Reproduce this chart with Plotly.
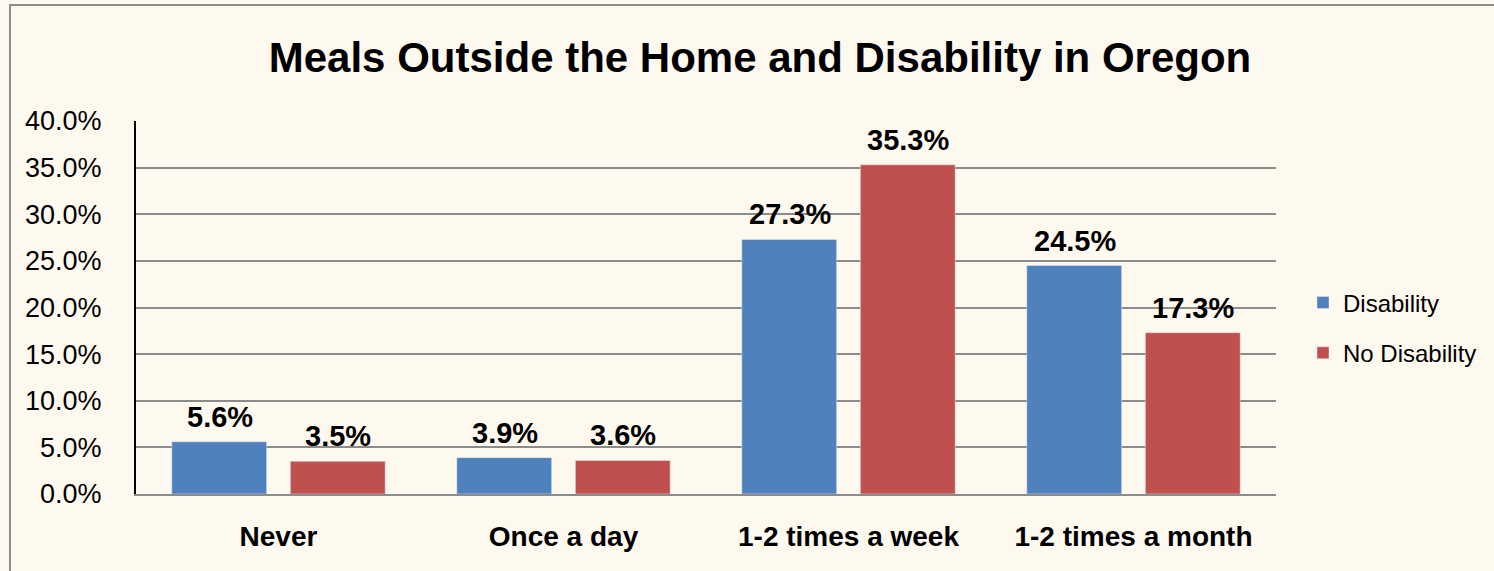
import plotly.graph_objects as go

categories = ["Never", "Once a day", "1-2 times a week", "1-2 times a month"]
disability = [5.6, 3.9, 27.3, 24.5]
no_disability = [3.5, 3.6, 35.3, 17.3]
tick_vals = [0, 5, 10, 15, 20, 25, 30, 35, 40]
tick_text = ["0.0%", "5.0%", "10.0%", "15.0%", "20.0%", "25.0%", "30.0%", "35.0%", "40.0%"]
title = "Meals Outside the Home and Disability in Oregon"

BLUE = "#4F81BD"
RED = "#C0504D"
BG = "#FEF9EF"
FONT = "Liberation Sans"

W, H = 1494, 571
L, T = 136, 121
PW, PH = 1140, 373

fig = go.Figure()
fig.add_trace(go.Bar(x=categories, y=disability, name="Disability", marker_color=BLUE,
                     legendgroup="a"))
fig.add_trace(go.Bar(x=categories, y=no_disability, name="No Disability", marker_color=RED,
                     legendgroup="b"))

# data labels
for vals, shift in ((disability, -59), (no_disability, 59)):
    for c, v in zip(categories, vals):
        fig.add_annotation(x=c, y=v, text="<b>%.1f%%</b>" % v, showarrow=False,
                           xshift=shift, yshift=25, font=dict(size=29, color="black", family=FONT))

fig.add_shape(type="rect", xref="paper", yref="paper",
              x0=(10 - L) / PW, x1=1.3, y0=-0.5, y1=(T + PH - 5) / PH,
              line=dict(color="#8C8C8C", width=2), fillcolor="rgba(0,0,0,0)", layer="below")

fig.update_layout(
    width=W, height=H,
    margin=dict(l=L, r=W - L - PW, t=T, b=H - T - PH, autoexpand=False),
    paper_bgcolor=BG, plot_bgcolor=BG,
    barmode="group", bargap=0.168, bargroupgap=0.2,
    title=dict(text="<b>" + title + "</b>", x=760 / W, xanchor="center",
               y=1 - 57 / H, yanchor="middle",
               font=dict(size=42, color="black", family=FONT)),
    font=dict(family=FONT, color="black"),
    legend=dict(x=(1303 - L) / PW, xanchor="left", y=(T + PH - 328) / PH, yanchor="middle",
                font=dict(size=24, family=FONT, color="black"), tracegroupgap=16,
                bgcolor="rgba(0,0,0,0)"),
    xaxis=dict(tickfont=dict(size=28, family=FONT, color="black"), showline=True,
               linecolor="#8C8C8C", linewidth=2, ticks="", ticklabelstandoff=16),
    yaxis=dict(range=[0, 40], tickvals=tick_vals, ticktext=tick_text,
               tickfont=dict(size=27, family=FONT, color="black"),
               showgrid=True, gridcolor="#8C8C8C", gridwidth=1.5,
               showline=True, linecolor="black", linewidth=2, zeroline=False,
               ticks="", ticklabelstandoff=27),
)

fig.update_xaxes(tickvals=categories, ticktext=["<b>%s</b>" % c for c in categories])

fig.write_html("out.html", config={"displayModeBar": False},
               post_script="document.body.style.margin='0';document.body.style.background='%s';" % BG)
